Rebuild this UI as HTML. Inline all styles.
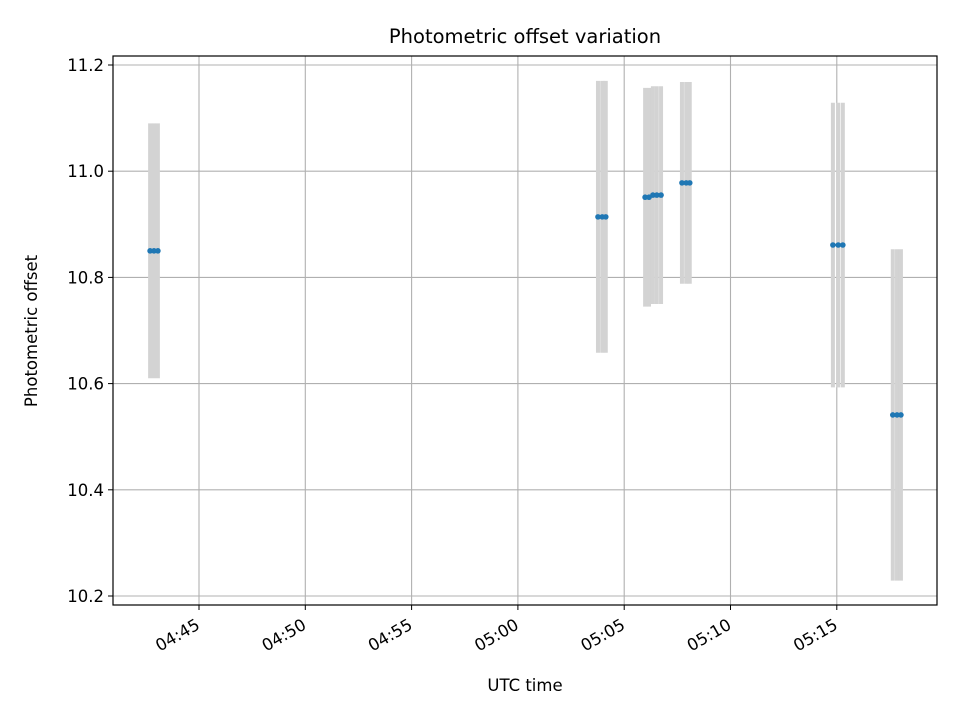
<!DOCTYPE html>
<html><head><meta charset="utf-8"><style>body{margin:0;background:#fff}svg{display:block;font-family:"DejaVu Sans","Liberation Sans",sans-serif}</style></head>
<body>
<svg id="chart" width="960" height="720" xmlns="http://www.w3.org/2000/svg">
<rect width="960" height="720" fill="#fff"/>
<text x="525" y="43" font-size="19.5" text-anchor="middle">Photometric offset variation</text>
<g id="grid"></g><g id="errs"></g><g id="pts"></g>
<rect x="113" y="56" width="824" height="549" fill="none" stroke="#000" stroke-width="1.2"/>
<g id="ticks"></g>
<text x="525" y="691" font-size="16.5" text-anchor="middle">UTC time</text>
<text transform="translate(37,331) rotate(-90)" font-size="16.5" text-anchor="middle">Photometric offset</text>
</svg>
<script>
const times=["04:42:42","04:42:53","04:43:04","05:03:46","05:03:58","05:04:08","05:05:59","05:06:10","05:06:21","05:06:32","05:06:44","05:07:43","05:07:55","05:08:05","05:14:49","05:15:04","05:15:17","05:17:38","05:17:50","05:18:01"];
const values=[10.850,10.850,10.850,10.914,10.914,10.914,10.951,10.951,10.955,10.955,10.955,10.978,10.978,10.978,10.861,10.861,10.861,10.541,10.541,10.541];
const errors=[0.24,0.24,0.24,0.256,0.256,0.256,0.206,0.206,0.205,0.205,0.205,0.19,0.19,0.19,0.268,0.268,0.268,0.312,0.312,0.312];
const xTickLabels=["04:45","04:50","04:55","05:00","05:05","05:10","05:15"];
const yTickLabels=["10.2","10.4","10.6","10.8","11.0","11.2"];
const NS="http://www.w3.org/2000/svg";
function sec(t){const p=t.split(":").map(Number);return p[0]*3600+p[1]*60+(p[2]||0);}
const x0=sec("04:45"),px0=199,pxPerSec=106.3/300;
function X(t){return px0+(sec(t)-x0)*pxPerSec;}
function Y(v){return 65+(11.2-v)*531;}
function mk(tag,at,parent){const e=document.createElementNS(NS,tag);for(const k in at)e.setAttribute(k,at[k]);document.getElementById(parent).appendChild(e);return e;}
xTickLabels.forEach(l=>{const x=X(l);
 let g=mk("line",{x1:x,x2:x,y1:56,y2:605,stroke:"#b0b0b0","stroke-width":1.1},"grid");
 
 mk("line",{x1:x,x2:x,y1:605,y2:610,stroke:"#000"},"ticks");
 let t=mk("text",{x:0,y:0,"font-size":16.5,"text-anchor":"end",transform:`translate(${x+2},${628}) rotate(-30)`},"ticks");
 t.textContent=l;});
yTickLabels.forEach(l=>{const y=Y(+l);
 let g=mk("line",{x1:113,x2:937,y1:y,y2:y,stroke:"#b0b0b0","stroke-width":1.1},"grid");
 
 mk("line",{x1:108,x2:113,y1:y,y2:y,stroke:"#000"},"ticks");
 let t=mk("text",{x:104,y:y+6,"font-size":16.5,"text-anchor":"end"},"ticks");
 t.textContent=l;});
times.forEach((t,i)=>{const x=X(t);
 let e=mk("line",{x1:x,x2:x,y1:Y(values[i]+errors[i]),y2:Y(values[i]-errors[i]),stroke:"#d3d3d3","stroke-width":4},"errs");
 
 let c=mk("circle",{cx:x,cy:Y(values[i]),r:2.8,fill:"#1f77b4"},"pts");
 });
</script>
</body></html>
